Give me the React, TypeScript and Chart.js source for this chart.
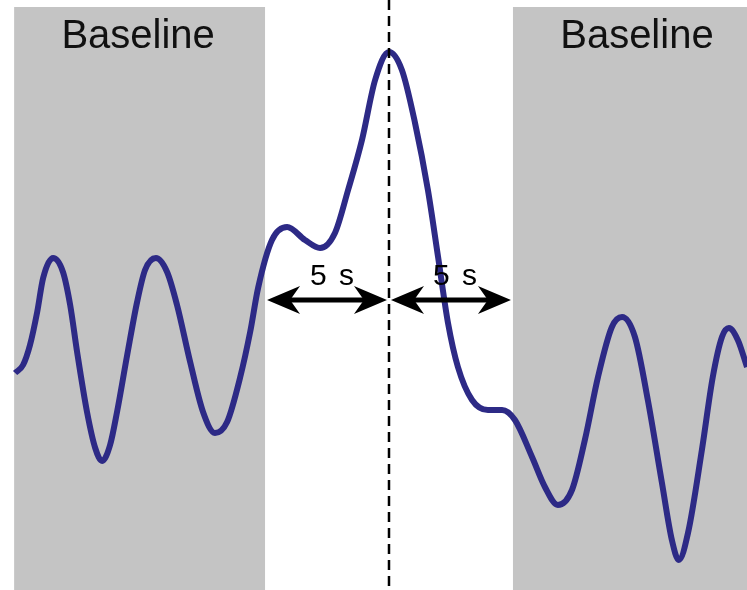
import React, { useEffect, useRef } from "react";
import { Chart, registerables } from "chart.js";

Chart.register(...registerables);

// time (s) relative to event peak
const timeS = [
  -15.08, -14.76, -14.48, -14.19, -13.95, -13.55, -13.15, -12.86, -12.58, -12.18,
  -11.85, -11.57, -11.25, -10.97, -10.56, -10.16, -9.84, -9.4, -8.95, -8.55,
  -8.02, -7.5, -7.02, -6.53, -6.01, -5.6, -5.28, -4.72, -4.11, -3.39,
  -2.78, -2.18, -1.65, -1.09, -0.56, 0, 0.52, 1.05, 1.57, 1.98,
  2.38, 2.78, 3.35, 3.99, 4.56, 5.08, 5.77, 6.29, 6.81, 7.38,
  7.9, 8.43, 8.99, 9.4, 9.92, 10.44, 11.01, 11.41, 11.69, 12.06,
  12.62, 13.06, 13.43, 13.71, 14.07, 14.44,
];
// signal amplitude (a.u.)
const signal = [
  0, 0.08, 0.28, 0.61, 0.95, 1.15, 1.01, 0.68, 0.21, -0.39,
  -0.75, -0.88, -0.72, -0.39, 0.18, 0.71, 1.03, 1.15, 1.01, 0.68,
  0.11, -0.39, -0.6, -0.49, -0.05, 0.41, 0.85, 1.33, 1.46, 1.33,
  1.25, 1.4, 1.83, 2.33, 2.93, 3.21, 3.03, 2.5, 1.83, 1.16,
  0.5, 0.06, -0.27, -0.37, -0.37, -0.47, -0.84, -1.14, -1.32, -1.17,
  -0.67, -0.04, 0.46, 0.56, 0.36, -0.27, -1.1, -1.67, -1.87, -1.6,
  -0.77, -0.04, 0.36, 0.45, 0.33, 0.06,
];

const xMin = -15.69;
const xMax = 14.44;
const yMin = -2.17;
const yMax = 3.73;

const baselineWindows = [
  [-15.12, -5],
  [5, 14.44],
];
const baselineTop = 3.66;
const baselineLabels = ["Baseline", "Baseline"];
const baselineLabelX = [-10.12, 10.0];
const baselineLabelY = 3.25;

const eventTime = 0;
const arrowSpans = [
  [-5, 0],
  [0, 5],
];
const arrowY = 0.73;
const arrowLabels = ["5 s", "5 s"];
const arrowLabelX = [-2.3, 2.66];
const arrowLabelY = 0.88;

const overlayPlugin = {
  id: "overlay",
  beforeDatasetsDraw(chart: any) {
    const { ctx, scales } = chart;
    const x = scales.x;
    const y = scales.y;
    ctx.save();
    ctx.fillStyle = "#c4c4c4";
    const top = y.getPixelForValue(baselineTop);
    const bottom = y.getPixelForValue(yMin);
    baselineWindows.forEach(([a, b]) => {
      const x0 = x.getPixelForValue(a);
      const x1 = x.getPixelForValue(b);
      ctx.fillRect(x0, top, x1 - x0, bottom - top);
    });
    ctx.fillStyle = "#111";
    ctx.font = '40px "Liberation Sans", Arial, sans-serif';
    ctx.textAlign = "center";
    ctx.textBaseline = "alphabetic";
    baselineLabels.forEach((t, i) => {
      ctx.fillText(t, x.getPixelForValue(baselineLabelX[i]), y.getPixelForValue(baselineLabelY));
    });
    ctx.restore();
  },
  afterDatasetsDraw(chart: any) {
    const { ctx, scales } = chart;
    const x = scales.x;
    const y = scales.y;
    ctx.save();
    // dashed event line
    const ex = x.getPixelForValue(eventTime);
    ctx.strokeStyle = "#000";
    ctx.lineWidth = 2.5;
    ctx.setLineDash([10, 6]);
    ctx.beginPath();
    ctx.moveTo(ex, y.getPixelForValue(yMax));
    ctx.lineTo(ex, y.getPixelForValue(yMin));
    ctx.stroke();
    ctx.setLineDash([]);

    // double arrows
    const ay = y.getPixelForValue(arrowY);
    const L = 33;
    const H = 14;
    const drawHead = (tip: number, dir: number) => {
      ctx.beginPath();
      ctx.moveTo(tip, ay);
      ctx.lineTo(tip + dir * L, ay - H);
      ctx.lineTo(tip + dir * L * 0.7, ay);
      ctx.lineTo(tip + dir * L, ay + H);
      ctx.closePath();
      ctx.fill();
    };
    ctx.fillStyle = "#000";
    arrowSpans.forEach(([a, b]) => {
      const x0 = x.getPixelForValue(a) + 2;
      const x1 = x.getPixelForValue(b) - 2;
      ctx.lineWidth = 5;
      ctx.beginPath();
      ctx.moveTo(x0 + 10, ay);
      ctx.lineTo(x1 - 10, ay);
      ctx.stroke();
      drawHead(x0, 1);
      drawHead(x1, -1);
    });

    ctx.font = '30px "Liberation Sans", Arial, sans-serif';
    ctx.textAlign = "center";
    ctx.textBaseline = "alphabetic";
    try {
      ctx.letterSpacing = "2px";
    } catch (e) {}
    arrowLabels.forEach((t, i) => {
      ctx.fillText(t, x.getPixelForValue(arrowLabelX[i]) + 1, y.getPixelForValue(arrowLabelY));
    });
    ctx.restore();
  },
};

export default function App() {
  const ref = useRef<HTMLCanvasElement | null>(null);
  useEffect(() => {
    if (!ref.current) return;
    const chart = new Chart(ref.current, {
      type: "line",
      data: {
        datasets: [
          {
            data: timeS.map((t, i) => ({ x: t, y: signal[i] })),
            borderColor: "#2d2a86",
            borderWidth: 6,
            pointRadius: 0,
            cubicInterpolationMode: "monotone",
            fill: false,
          },
        ],
      },
      options: {
        animation: false,
        responsive: false,
        maintainAspectRatio: false,
        layout: { padding: 0 },
        plugins: { legend: { display: false }, tooltip: { enabled: false } },
        scales: {
          x: { type: "linear", min: xMin, max: xMax, display: false },
          y: { type: "linear", min: yMin, max: yMax, display: false },
        },
      },
      plugins: [overlayPlugin],
    });
    return () => chart.destroy();
  }, []);
  return (
    <div style={{ position: "fixed", left: 0, top: 0, width: 747, height: 590, background: "#fff" }}>
      <canvas ref={ref} width={747} height={590} style={{ display: "block" }} />
    </div>
  );
}
